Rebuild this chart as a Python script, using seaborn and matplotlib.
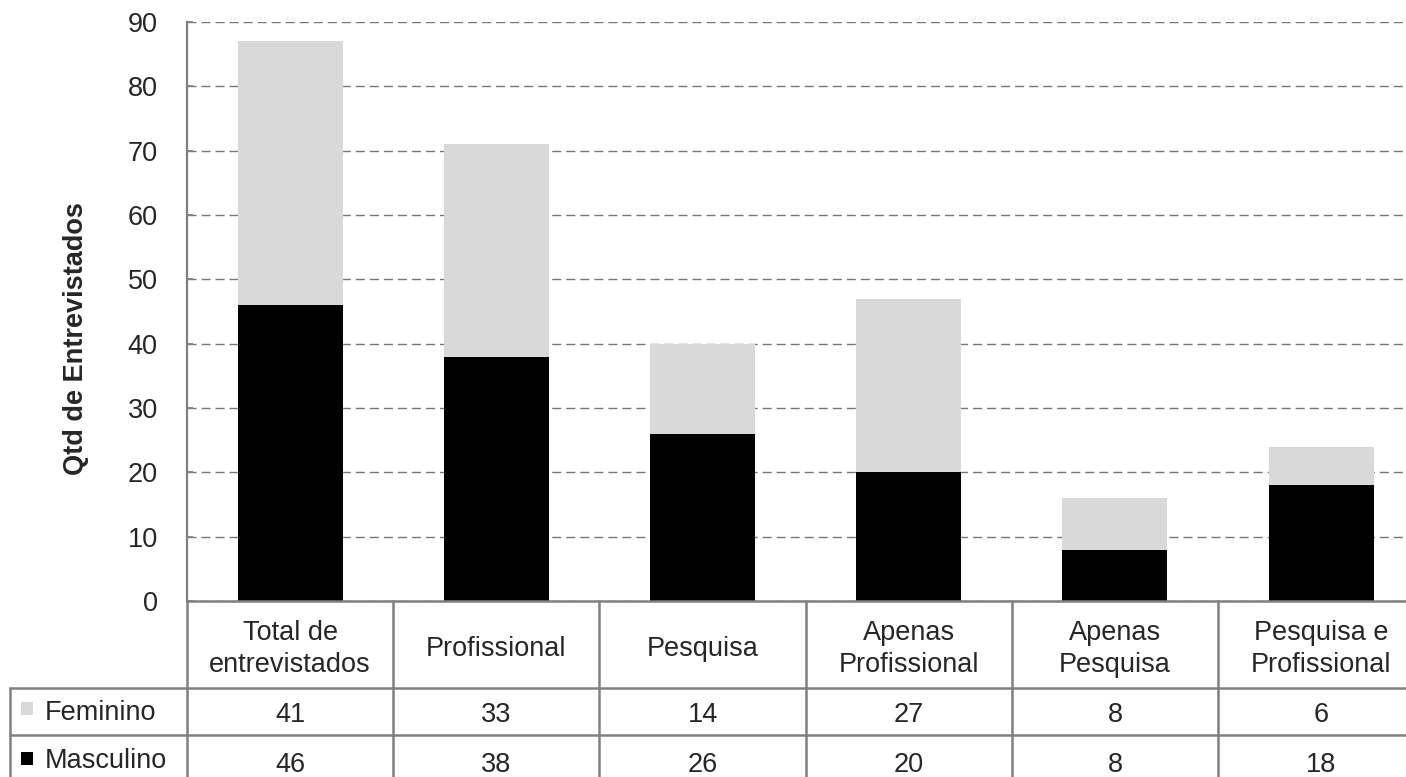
import matplotlib
matplotlib.use("Agg")
import matplotlib.pyplot as plt
import seaborn as sns
import pandas as pd
from matplotlib.lines import Line2D
from matplotlib.patches import Rectangle

categories = ["Total de\nentrevistados", "Profissional", "Pesquisa",
              "Apenas\nProfissional", "Apenas\nPesquisa", "Pesquisa e\nProfissional"]
feminino = [41, 33, 14, 27, 8, 6]
masculino = [46, 38, 26, 20, 8, 18]
yticks = [0, 10, 20, 30, 40, 50, 60, 70, 80, 90]

sns.set_theme(style="white")
plt.rcParams['font.family'] = ['Liberation Sans', 'DejaVu Sans']

FS = 19.5
W, H = 1406, 777
fig = plt.figure(figsize=(W / 100, H / 100), dpi=100)
ncol = len(categories)
colw = 206.2
L, T, B = 187, 22, 601
R = L + ncol * colw
ax = fig.add_axes([L / W, 1 - B / H, (R - L) / W, (B - T) / H])

df = pd.DataFrame({"cat": categories, "Feminino": feminino, "Masculino": masculino})
df["total"] = df["Feminino"] + df["Masculino"]

gray = "#d9d9d9"
sns.barplot(data=df, x="cat", y="total", color=gray, width=0.51, ax=ax,
            saturation=1, edgecolor="none", zorder=2)
sns.barplot(data=df, x="cat", y="Masculino", color="black", width=0.51, ax=ax,
            saturation=1, edgecolor="none", zorder=3)

ax.set_xlim(-0.5, ncol - 0.5)
ax.set_ylim(0, 90)
ax.set_yticks(yticks)
ax.set_yticklabels([str(v) for v in yticks], fontsize=FS)
ax.tick_params(axis="y", direction="in", length=4, width=1.3, color="#808080", pad=21, left=True)
ax.set_xticks([])
ax.set_xlabel("")
ax.set_ylabel("")
ax.yaxis.grid(True, linestyle=(0, (6.5, 3.6)), color="#777777", linewidth=1.0, zorder=0)
ax.set_axisbelow(True)
for s in ["top", "right", "bottom"]:
    ax.spines[s].set_visible(False)
ax.spines["left"].set_color("#808080")
ax.spines["left"].set_linewidth(1.6)

def fx(px):
    return px / W
def fy(py):
    return 1 - py / H

fig.text(fx(76), fy(339), "Qtd de Entrevistados", rotation=90, ha="center", va="center",
         fontsize=FS, fontweight="bold")

# Data table
lc = "#808080"
lw = 1.8
row_top = B
row1 = 688
row2 = 735
bot = 777
left_tab = 10

fig.add_artist(Line2D([fx(L), fx(R)], [fy(row_top), fy(row_top)], color=lc, lw=lw))
for yy in (row1, row2):
    fig.add_artist(Line2D([fx(left_tab), fx(R)], [fy(yy), fy(yy)], color=lc, lw=lw))
for k in range(ncol + 1):
    x = L + k * colw
    fig.add_artist(Line2D([fx(x), fx(x)], [fy(row_top), fy(bot)], color=lc, lw=lw))
fig.add_artist(Line2D([fx(left_tab), fx(left_tab)], [fy(row1), fy(bot)], color=lc, lw=lw))

line_h = 32
head_base = 656
for k, cat in enumerate(categories):
    cx = L + (k + 0.5) * colw
    lines = cat.split("\n")
    n = len(lines)
    for i, ln in enumerate(lines):
        yb = head_base + (i - (n - 1) / 2) * line_h
        fig.text(fx(cx), fy(yb), ln, ha="center", va="baseline", fontsize=FS)
    fig.text(fx(cx), fy(722), str(feminino[k]), ha="center", va="baseline", fontsize=FS)
    fig.text(fx(cx), fy(772), str(masculino[k]), ha="center", va="baseline", fontsize=FS)

for (ky0, col, name, yb) in [(702, gray, "Feminino", 720), (752, "black", "Masculino", 768)]:
    fig.add_artist(Rectangle((fx(21), fy(ky0 + 13)), 12 / W, 13 / H, color=col, lw=0))
    fig.text(fx(45), fy(yb), name, ha="left", va="baseline", fontsize=FS)

fig.savefig("out.png", dpi=100, facecolor="white")
